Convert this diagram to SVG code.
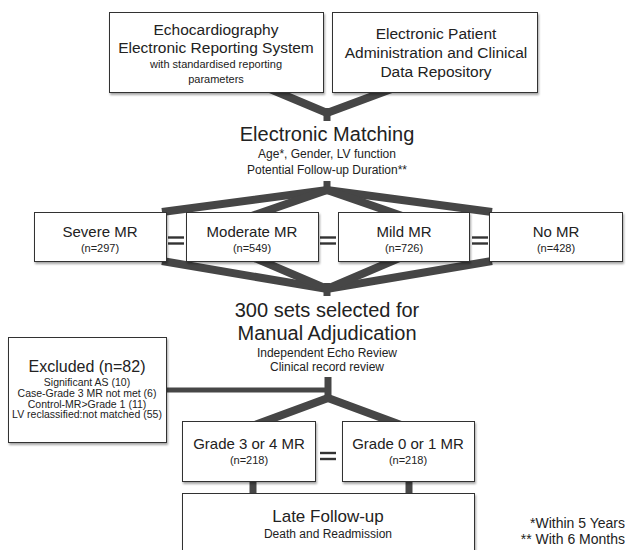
<svg xmlns="http://www.w3.org/2000/svg" width="630" height="550" viewBox="0 0 630 550">
<style>
  .box { fill: #ffffff; stroke: #333333; stroke-width: 1; filter: url(#shadow); }
  .conn { fill: none; stroke: #464646; stroke-width: 8; stroke-linecap: butt; stroke-linejoin: miter; }
  .stub { fill: none; stroke: #464646; stroke-width: 7; }
  .eq { stroke: #333333; stroke-width: 2.4; }
  text { font-family: "Liberation Sans", Arial, Helvetica, sans-serif; fill: #222222; text-anchor: middle; }
  .t15 { font-size: 15.5px; }
  .t11 { font-size: 11px; }
  .t20 { font-size: 20px; }
  .t12 { font-size: 12px; }
  .t15m { font-size: 15px; }
  .t16 { font-size: 16px; }
  .t10 { font-size: 10.5px; }
  .t17 { font-size: 17px; }
  .note { font-size: 14px; text-anchor: end; }
</style>
<defs>
  <filter id="shadow" x="-5%" y="-5%" width="115%" height="125%">
    <feDropShadow dx="1" dy="2" stdDeviation="1.2" flood-color="#000000" flood-opacity="0.35"/>
  </filter>
</defs>

<g id="connectors">
  <polyline class="conn" points="258,84 327,113 405,84"/>
  <line class="stub" x1="327" y1="108" x2="327" y2="121"/>

  <line class="stub" x1="327" y1="181" x2="327" y2="193"/>
  <polyline class="conn" points="162,212 327,190 492,212"/>
  <polyline class="conn" points="246,218 327,190 408,218"/>

  <line class="stub" x1="327" y1="283" x2="327" y2="296"/>
  <polyline class="conn" points="162,261 327,289 492,261"/>
  <polyline class="conn" points="250,256 327,289 404,256"/>

  <line x1="166" y1="390" x2="328" y2="390" stroke="#464646" stroke-width="5"/>
  <line class="stub" x1="328" y1="377" x2="328" y2="401"/>
  <polyline class="conn" points="255,425 328,398 401,425"/>

  <line class="stub" x1="253" y1="478" x2="253" y2="496"/>
  <line class="stub" x1="409" y1="478" x2="409" y2="496"/>

  <line class="eq" x1="168" y1="237.5" x2="184" y2="237.5"/>
  <line class="eq" x1="168" y1="243.5" x2="184" y2="243.5"/>
  <line class="eq" x1="320" y1="237.5" x2="336" y2="237.5"/>
  <line class="eq" x1="320" y1="243.5" x2="336" y2="243.5"/>
  <line class="eq" x1="472" y1="237.5" x2="488" y2="237.5"/>
  <line class="eq" x1="472" y1="243.5" x2="488" y2="243.5"/>
  <line class="eq" x1="320" y1="453" x2="336" y2="453"/>
  <line class="eq" x1="320" y1="459" x2="336" y2="459"/>
</g>

<g id="echo-system">
  <rect class="box" x="109.5" y="12.5" width="214" height="80"/>
  <text class="t15" x="216" y="35">Echocardiography</text>
  <text class="t15" x="216" y="53">Electronic Reporting System</text>
  <text class="t11" x="216" y="68">with standardised reporting</text>
  <text class="t11" x="216" y="83">parameters</text>
</g>

<g id="patient-admin">
  <rect class="box" x="332.5" y="12.5" width="205" height="80"/>
  <text class="t15" x="436" y="39">Electronic Patient</text>
  <text class="t15" x="436" y="58">Administration and Clinical</text>
  <text class="t15" x="436" y="77">Data Repository</text>
</g>

<g id="electronic-matching">
  <text class="t20" x="327" y="141">Electronic Matching</text>
  <text class="t12" x="327" y="158">Age*, Gender, LV function</text>
  <text class="t12" x="327" y="174">Potential Follow-up Duration**</text>
</g>

<g id="severe-mr">
  <rect class="box" x="34.5" y="212.5" width="132" height="49"/>
  <text class="t15m" x="100" y="237">Severe MR</text>
  <text class="t11" x="100" y="252">(n=297)</text>
</g>

<g id="moderate-mr">
  <rect class="box" x="186.5" y="212.5" width="132" height="49"/>
  <text class="t15m" x="252" y="237">Moderate MR</text>
  <text class="t11" x="252" y="252">(n=549)</text>
</g>

<g id="mild-mr">
  <rect class="box" x="338.5" y="212.5" width="131" height="49"/>
  <text class="t15m" x="404" y="237">Mild MR</text>
  <text class="t11" x="404" y="252">(n=726)</text>
</g>

<g id="no-mr">
  <rect class="box" x="489.5" y="212.5" width="133" height="49"/>
  <text class="t15m" x="556" y="237">No MR</text>
  <text class="t11" x="556" y="252">(n=428)</text>
</g>

<g id="manual-adjudication">
  <text class="t20" x="327" y="317">300 sets selected for</text>
  <text class="t20" x="327" y="340">Manual Adjudication</text>
  <text class="t12" x="327" y="357">Independent Echo Review</text>
  <text class="t12" x="327" y="371">Clinical record review</text>
</g>

<g id="excluded">
  <rect class="box" x="8.5" y="337.5" width="158" height="105"/>
  <text class="t16" x="87" y="372">Excluded (n=82)</text>
  <text class="t10" x="87" y="386">Significant AS (10)</text>
  <text class="t10" x="87" y="397">Case-Grade 3 MR not met (6)</text>
  <text class="t10" x="87" y="407.5">Control-MR&gt;Grade 1 (11)</text>
  <text class="t10" x="87" y="418">LV reclassified:not matched (55)</text>
</g>

<g id="grade-34">
  <rect class="box" x="182.5" y="421.5" width="133" height="60"/>
  <text class="t15m" x="249" y="449">Grade 3 or 4 MR</text>
  <text class="t11" x="249" y="464">(n=218)</text>
</g>

<g id="grade-01">
  <rect class="box" x="342.5" y="421.5" width="132" height="60"/>
  <text class="t15m" x="408" y="449">Grade 0 or 1 MR</text>
  <text class="t11" x="408" y="464">(n=218)</text>
</g>

<g id="late-follow-up">
  <rect class="box" x="182.5" y="493.5" width="292" height="70"/>
  <text class="t17" x="328" y="522">Late Follow-up</text>
  <text class="t12" x="328" y="538">Death and Readmission</text>
</g>

<g id="footnotes">
  <text class="note" x="625" y="528">*Within 5 Years</text>
  <text class="note" x="625" y="544">** With 6 Months</text>
</g>
</svg>
